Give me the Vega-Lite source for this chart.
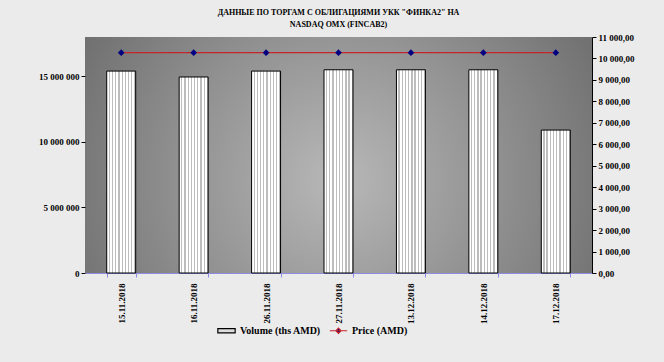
{
  "$schema": "https://vega.github.io/schema/vega-lite/v6.json",
  "width": 507,
  "height": 236,
  "autosize": "none",
  "padding": {"left": 85, "right": 72, "top": 37, "bottom": 89},
  "background": "#ebebeb",
  "title": {
    "text": ["ДАННЫЕ ПО ТОРГАМ С ОБЛИГАЦИЯМИ УКК \"ФИНКА2\" НА", "NASDAQ OMX (FINCAB2)"],
    "font": "Liberation Serif",
    "fontSize": 8,
    "fontWeight": "bold",
    "color": "#000000",
    "anchor": "middle",
    "offset": 4,
    "lineHeight": 12
  },
  "data": {
    "values": [
      {"date": "15.11.2018", "volume": 15400000, "price": 10270},
      {"date": "16.11.2018", "volume": 14950000, "price": 10270},
      {"date": "26.11.2018", "volume": 15400000, "price": 10270},
      {"date": "27.11.2018", "volume": 15500000, "price": 10270},
      {"date": "13.12.2018", "volume": 15500000, "price": 10270},
      {"date": "14.12.2018", "volume": 15500000, "price": 10270},
      {"date": "17.12.2018", "volume": 10900000, "price": 10270}
    ]
  },
  "encoding": {
    "x": {
      "field": "date",
      "type": "nominal",
      "sort": null,
      "title": null,
      "scale": {"paddingInner": 0.6, "paddingOuter": 0.3},
      "axis": {
        "labelAngle": -90,
        "tickBand": "extent",
        "domainColor": "#8c8ce0",
        "tickColor": "#8c8ce0",
        "tickSize": 4,
        "labelPadding": 6,
        "labelFont": "Liberation Serif",
        "labelFontWeight": "bold",
        "labelFontSize": 9,
        "labelColor": "#000000"
      }
    }
  },
  "layer": [
    {
      "mark": {"type": "bar", "strokeWidth": 1,
        "fill": {"gradient": "linear", "x1": 0, "y1": 0, "x2": 1, "y2": 0, "stops": [
          {"offset": 0, "color": "#ffffff"}, {"offset": 0.0667, "color": "#ffffff"}, {"offset": 0.0667, "color": "#bdbdbd"}, {"offset": 0.1111, "color": "#bdbdbd"},
          {"offset": 0.1111, "color": "#ffffff"}, {"offset": 0.1778, "color": "#ffffff"}, {"offset": 0.1778, "color": "#bdbdbd"}, {"offset": 0.2222, "color": "#bdbdbd"},
          {"offset": 0.2222, "color": "#ffffff"}, {"offset": 0.2889, "color": "#ffffff"}, {"offset": 0.2889, "color": "#bdbdbd"}, {"offset": 0.3333, "color": "#bdbdbd"},
          {"offset": 0.3333, "color": "#ffffff"}, {"offset": 0.4, "color": "#ffffff"}, {"offset": 0.4, "color": "#bdbdbd"}, {"offset": 0.4444, "color": "#bdbdbd"},
          {"offset": 0.4444, "color": "#ffffff"}, {"offset": 0.5111, "color": "#ffffff"}, {"offset": 0.5111, "color": "#bdbdbd"}, {"offset": 0.5556, "color": "#bdbdbd"},
          {"offset": 0.5556, "color": "#ffffff"}, {"offset": 0.6222, "color": "#ffffff"}, {"offset": 0.6222, "color": "#bdbdbd"}, {"offset": 0.6667, "color": "#bdbdbd"},
          {"offset": 0.6667, "color": "#ffffff"}, {"offset": 0.7333, "color": "#ffffff"}, {"offset": 0.7333, "color": "#bdbdbd"}, {"offset": 0.7778, "color": "#bdbdbd"},
          {"offset": 0.7778, "color": "#ffffff"}, {"offset": 0.8444, "color": "#ffffff"}, {"offset": 0.8444, "color": "#bdbdbd"}, {"offset": 0.8889, "color": "#bdbdbd"},
          {"offset": 0.8889, "color": "#ffffff"}, {"offset": 0.9556, "color": "#ffffff"}, {"offset": 0.9556, "color": "#bdbdbd"}, {"offset": 1, "color": "#bdbdbd"}
        ]}
      },
      "encoding": {
        "y": {
          "field": "volume",
          "type": "quantitative",
          "title": null,
          "scale": {"domain": [0, 18000000], "nice": false},
          "axis": {
            "orient": "left",
            "values": [0, 5000000, 10000000, 15000000],
            "grid": false,
            "domain": false,
            "tickColor": "#000000",
            "tickSize": 4,
            "labelFont": "Liberation Serif",
            "labelFontWeight": "bold",
            "labelFontSize": 9,
            "labelColor": "#000000",
            "labelExpr": "replace(format(datum.value, ',d'), /,/g, ' ')"
          }
        },
        "stroke": {"datum": "Volume (ths AMD)"}
      }
    },
    {
      "mark": {"type": "line", "strokeWidth": 1.3},
      "encoding": {
        "y": {
          "field": "price",
          "type": "quantitative",
          "title": null,
          "scale": {"domain": [0, 11000], "nice": false},
          "axis": {
            "orient": "right",
            "values": [0, 1000, 2000, 3000, 4000, 5000, 6000, 7000, 8000, 9000, 10000, 11000],
            "grid": false,
            "domain": true,
            "domainColor": "#000000",
            "tickColor": "#000000",
            "tickSize": 4,
            "labelFont": "Liberation Serif",
            "labelFontWeight": "bold",
            "labelFontSize": 9,
            "labelColor": "#000000",
            "labelExpr": "replace(replace(format(datum.value, ',.2f'), /,/g, ' '), '.', ',')"
          }
        },
        "stroke": {
          "datum": "Price (AMD)",
          "scale": {"domain": ["Volume (ths AMD)", "Price (AMD)"], "range": ["#000000", "#c4242c"]},
          "legend": {
            "title": null,
            "orient": "none",
            "legendX": 132,
            "legendY": 284,
            "direction": "horizontal",
            "symbolSize": 300,
            "symbolStrokeWidth": 1.2,
            "labelFont": "Liberation Serif",
            "labelFontWeight": "bold",
            "labelFontSize": 10,
            "labelColor": "#000000",
            "columnPadding": 6,
            "encode": {
              "symbols": {
                "update": {
                  "shape": {"signal": "datum.value == 'Price (AMD)' ? 'M-1,0H1M0,-0.3L0.3,0L0,0.3L-0.3,0Z' : 'M-1,-0.25H1V0.25H-1Z'"},
                  "fill": {"signal": "datum.value == 'Price (AMD)' ? '#000080' : '#dcdcdc'"},
                  "fillOpacity": {"value": 1}
                }
              }
            }
          }
        }
      }
    },
    {
      "mark": {"type": "point", "shape": "diamond", "filled": true, "color": "#000080", "size": 45, "opacity": 1},
      "encoding": {
        "y": {"field": "price", "type": "quantitative", "scale": {"domain": [0, 11000], "nice": false}, "axis": null}
      }
    }
  ],
  "resolve": {"scale": {"y": "independent"}},
  "config": {
    "view": {
      "stroke": null,
      "fill": {"gradient": "radial", "x1": 0.5, "y1": 0.55, "r1": 0, "x2": 0.5, "y2": 0.55, "r2": 0.75,
        "stops": [{"offset": 0, "color": "#b8b8b8"}, {"offset": 1, "color": "#5a5a5a"}]}
    }
  }
}
